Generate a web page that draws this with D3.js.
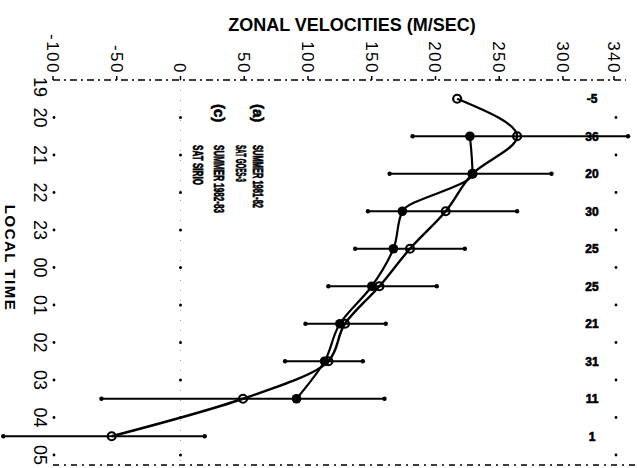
<!DOCTYPE html>
<html><head><meta charset="utf-8">
<script src="https://cdn.jsdelivr.net/npm/d3@7"></script>
<style>
html,body{margin:0;padding:0;background:#fff;}
svg{display:block;}
text{font-family:"Liberation Sans",Arial,sans-serif;fill:#000;}
</style></head>
<body><svg id="c" width="637" height="468"></svg>
<script>
// ---- data ----
const hourLabels = ["19","20","21","22","23","00","01","02","03","04","05"];
const velocityTicks = [-100,-50,0,50,100,150,200,250,300,340];
const rowTimes = [0.5,1.5,2.5,3.5,4.5,5.5,6.5,7.5,8.5,9.5]; // hours after 19:00
const seriesA = [null,227,229,174,167,150,125,113,91,null];        // (a) Summer 1981-82 GOES-3
const seriesC = [217,264,229,208,180,156,129,116,49,-54];          // (c) Summer 1982-83 SIRIO
const errLowC  = [null,182,164,147,137,116,98,82,-62,-139];
const errHighC = [null,351,291,264,223,201,161,143,160,19];
const countLabels = ["-5","36","20","30","25","25","21","31","11","1"];
const legendLines = ["SUMMER 1981-82","SAT GOES-3","SUMMER 1982-83","SAT SIRIO"];

const svg = d3.select("#c");
const x = d3.scaleLinear().domain([-100,340]).range([53,614]);
const y = d3.scaleLinear().domain([0,10]).range([80,455]);
const bottomY = 465, rightX = 616;

// title
svg.append("text").attr("x",352).attr("y",31).attr("text-anchor","middle")
  .style("font-weight","bold").style("font-size","18px").text("ZONAL VELOCITIES (M/SEC)");

// top dashed axis
svg.append("line").attr("x1",x(-100)).attr("x2",626).attr("y1",y(0)).attr("y2",y(0))
  .attr("stroke","#000").attr("stroke-width",1.6).attr("stroke-dasharray","7,4,2,4");
svg.selectAll(".vt").data(velocityTicks).enter().append("line")
  .attr("x1",d=>x(d)).attr("x2",d=>x(d)).attr("y1",y(0)-4).attr("y2",y(0))
  .attr("stroke","#000").attr("stroke-width",1.5);
svg.selectAll(".vl").data(velocityTicks).enter().append("text")
  .attr("transform",d=>`translate(${x(d)},${y(0)-6}) rotate(90)`)
  .attr("text-anchor","end").attr("dy","0.36em")
  .style("font-size","17px").style("letter-spacing","1.5px").text(d=>d);

// bottom dashed line
svg.append("line").attr("x1",x(-100)).attr("x2",637).attr("y1",bottomY).attr("y2",bottomY)
  .attr("stroke","#000").attr("stroke-width",1.6).attr("stroke-dasharray","6,5,2,5");

// hour ticks left/right and zero-line dots
const hIdx = d3.range(hourLabels.length);
svg.selectAll(".lt").data(hIdx.slice(1)).enter().append("circle")
  .attr("cx",x(-100)+1).attr("cy",d=>y(d)).attr("r",1.4).attr("fill","#000");
svg.selectAll(".rt").data(hIdx.slice(1)).enter().append("circle")
  .attr("cx",rightX).attr("cy",d=>y(d)).attr("r",1.4).attr("fill","#000");
svg.append("line").attr("x1",x(0)).attr("x2",x(0)).attr("y1",y(0)).attr("y2",bottomY)
  .attr("stroke","#000").attr("stroke-width",0.6).attr("stroke-dasharray","1,9").attr("opacity",0.6);
svg.selectAll(".zt").data(hIdx.slice(1)).enter().append("circle")
  .attr("cx",x(0)).attr("cy",d=>y(d)).attr("r",1.5).attr("fill","#000");

// hour labels
svg.selectAll(".hl").data(hourLabels).enter().append("text")
  .attr("transform",(d,i)=>`translate(40,${y(i)+(i===0?7:0)}) rotate(90)`)
  .attr("text-anchor","middle").attr("dy","0.36em")
  .style("font-size","18px").text(d=>d);
svg.append("text").attr("transform","translate(10,258) rotate(90)")
  .attr("text-anchor","middle").attr("dy","0.36em")
  .style("font-size","15px").style("font-weight","bold").style("letter-spacing","1.5px").text("LOCAL TIME");

// legend (rotated)
const legX = [258,241,219,198];
const legLen = [63,37,68,40];
legendLines.forEach((t,i)=>{
  svg.append("text").attr("transform",`translate(${legX[i]},145) rotate(90)`)
    .attr("dy","0.36em").attr("textLength",legLen[i]).attr("lengthAdjust","spacingAndGlyphs")
    .attr("stroke","#000").attr("stroke-width",0.7)
    .style("font-size","15px").style("font-weight","bold").text(t);
});
svg.append("text").attr("transform",`translate(${legX[0]},104) rotate(90)`).attr("dy","0.36em")
  .attr("stroke","#000").attr("stroke-width",0.6)
  .style("font-size","15px").style("font-weight","bold").text("(a)");
svg.append("text").attr("transform",`translate(${legX[2]},104) rotate(90)`).attr("dy","0.36em")
  .attr("stroke","#000").attr("stroke-width",0.6)
  .style("font-size","15px").style("font-weight","bold").text("(c)");

// right count labels
svg.selectAll(".cl").data(countLabels).enter().append("text")
  .attr("x",592).attr("y",(d,i)=>y(rowTimes[i])).attr("dy","0.36em").attr("text-anchor","middle")
  .attr("stroke","#000").attr("stroke-width",0.6)
  .style("font-size","12px").style("font-weight","bold").text(d=>d);

// error bars (series c)
const eb = rowTimes.map((t,i)=>({t,lo:errLowC[i],hi:errHighC[i]})).filter(d=>d.lo!==null);
svg.selectAll(".eb").data(eb).enter().append("line")
  .attr("x1",d=>x(d.lo)).attr("x2",d=>x(d.hi)).attr("y1",d=>y(d.t)).attr("y2",d=>y(d.t))
  .attr("stroke","#000").attr("stroke-width",2.2);
svg.selectAll(".ebl").data(eb).enter().append("circle")
  .attr("cx",d=>x(d.lo)).attr("cy",d=>y(d.t)).attr("r",2.2).attr("fill","#000");
svg.selectAll(".ebh").data(eb).enter().append("circle")
  .attr("cx",d=>x(d.hi)).attr("cy",d=>y(d.t)).attr("r",2.2).attr("fill","#000");

// lines
const line = d3.line().x(d=>x(d.v)).y(d=>y(d.t)).curve(d3.curveMonotoneY);
const ptsA = rowTimes.map((t,i)=>({t,v:seriesA[i]})).filter(d=>d.v!==null);
const ptsC = rowTimes.map((t,i)=>({t,v:seriesC[i]})).filter(d=>d.v!==null);
svg.append("path").attr("d",line(ptsA)).attr("fill","none").attr("stroke","#000").attr("stroke-width",2.2);
svg.append("path").attr("d",line(ptsC)).attr("fill","none").attr("stroke","#000").attr("stroke-width",2.4);

// markers
svg.selectAll(".ma").data(ptsA).enter().append("circle")
  .attr("cx",d=>x(d.v)).attr("cy",d=>y(d.t)).attr("r",4.8).attr("fill","#000");
svg.selectAll(".mc").data(ptsC).enter().append("circle")
  .attr("cx",d=>x(d.v)).attr("cy",d=>y(d.t)).attr("r",4).attr("fill","none")
  .attr("stroke","#000").attr("stroke-width",2.2);
</script></body></html>
